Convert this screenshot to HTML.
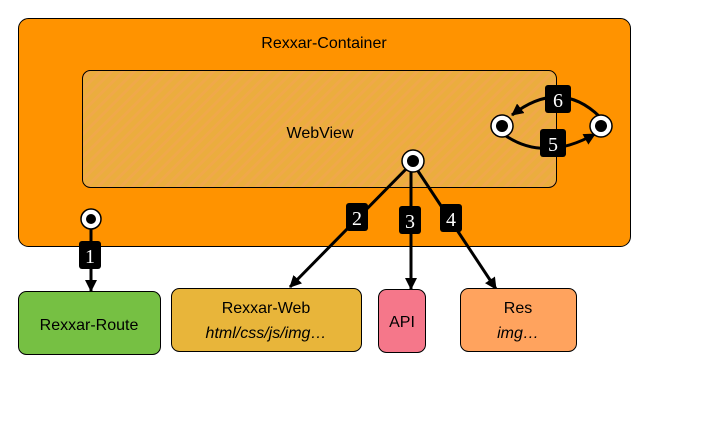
<!DOCTYPE html>
<html><head><meta charset="utf-8"><style>
html,body{margin:0;padding:0;background:#fff;}
svg{display:block;}
text{font-family:"Liberation Sans",sans-serif;}
.n{font-family:"Liberation Serif",serif;font-size:20px;fill:#fff;text-anchor:middle;}
</style></head><body>
<svg width="702" height="428" viewBox="0 0 702 428" xmlns="http://www.w3.org/2000/svg">
<defs>
<pattern id="st" width="8" height="8" patternUnits="userSpaceOnUse" patternTransform="rotate(45)">
<rect width="8" height="8" fill="#EBAD3E"/>
<rect width="3" height="8" fill="#F0A84A"/>
</pattern>
<marker id="ah" markerWidth="12" markerHeight="12" refX="11" refY="6" orient="auto" markerUnits="userSpaceOnUse">
<path d="M0,0 L12,6 L0,12 z" fill="#000"/>
</marker>
</defs>
<rect x="18.5" y="18.5" width="612" height="228" rx="10" fill="#FF9300" stroke="#000" stroke-width="1"/>
<text x="324" y="48" font-size="16" text-anchor="middle" fill="#000">Rexxar-Container</text>
<rect x="82.5" y="70.5" width="474" height="117" rx="8" fill="url(#st)" stroke="#000" stroke-width="1"/>
<text x="320" y="138" font-size="16" text-anchor="middle" fill="#000">WebView</text>

<g stroke="#000" stroke-width="3" fill="none">
<line x1="91" y1="228" x2="91" y2="291" marker-end="url(#ah)"/>
<line x1="414" y1="161" x2="290" y2="287" marker-end="url(#ah)"/>
<line x1="411" y1="168" x2="411" y2="289" marker-end="url(#ah)"/>
<line x1="416" y1="168" x2="496" y2="289" marker-end="url(#ah)"/>
<path d="M600,117 Q560,78 512,115" marker-end="url(#ah)"/>
<path d="M506,136 Q545,162 595,134" marker-end="url(#ah)"/>
</g>

<g>
<circle cx="91" cy="219" r="10" fill="#fff" stroke="#000" stroke-width="1.5"/><circle cx="91" cy="219" r="5" fill="#000"/>
<circle cx="413" cy="161" r="11" fill="#fff" stroke="#000" stroke-width="1.5"/><circle cx="413" cy="161" r="6" fill="#000"/>
<circle cx="502" cy="126" r="11" fill="#fff" stroke="#000" stroke-width="1.5"/><circle cx="502" cy="126" r="6" fill="#000"/>
<circle cx="601" cy="126" r="11" fill="#fff" stroke="#000" stroke-width="1.5"/><circle cx="601" cy="126" r="6" fill="#000"/>
</g>

<g fill="#000">
<rect x="79" y="241" width="22" height="28" rx="3"/>
<rect x="346" y="203" width="22" height="28" rx="3"/>
<rect x="399" y="206" width="22" height="28" rx="3"/>
<rect x="440" y="204" width="22" height="28" rx="3"/>
<rect x="540" y="129" width="26" height="28" rx="3"/>
<rect x="545" y="85" width="26" height="28" rx="3"/>
</g>
<text class="n" x="90" y="263">1</text>
<text class="n" x="357" y="225">2</text>
<text class="n" x="410" y="228">3</text>
<text class="n" x="451" y="226">4</text>
<text class="n" x="553" y="151">5</text>
<text class="n" x="558" y="107">6</text>

<rect x="18.5" y="291.5" width="142" height="63" rx="8" fill="#76C043" stroke="#000"/>
<text x="89" y="330" font-size="16" text-anchor="middle">Rexxar-Route</text>
<rect x="171.5" y="288.5" width="190" height="63" rx="8" fill="#E8B53A" stroke="#000"/>
<text x="266" y="313" font-size="16" text-anchor="middle">Rexxar-Web</text>
<text x="266" y="338" font-size="16" font-style="italic" text-anchor="middle">html/css/js/img…</text>
<rect x="378.5" y="289.5" width="47" height="63" rx="8" fill="#F5778A" stroke="#000"/>
<text x="402" y="327" font-size="16" text-anchor="middle">API</text>
<rect x="460.5" y="288.5" width="116" height="63" rx="8" fill="#FFA35E" stroke="#000"/>
<text x="518" y="313" font-size="16" text-anchor="middle">Res</text>
<text x="518" y="338" font-size="16" font-style="italic" text-anchor="middle">img…</text>
</svg>
</body></html>
